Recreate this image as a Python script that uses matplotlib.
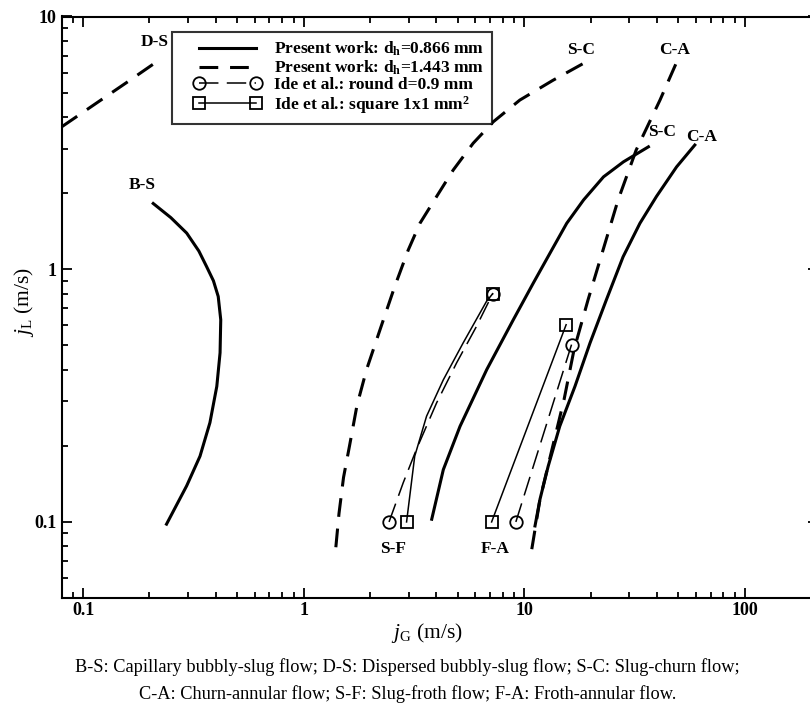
import matplotlib
matplotlib.use('Agg')
import matplotlib.pyplot as plt
import matplotlib.ticker as ticker
from matplotlib.legend_handler import HandlerLine2D
import numpy as np

plt.rcParams['font.family'] = ['Liberation Serif', 'DejaVu Serif']
plt.rcParams['mathtext.fontset'] = 'custom'
plt.rcParams['mathtext.rm'] = 'Liberation Serif'
plt.rcParams['mathtext.it'] = 'Liberation Serif:italic'
plt.rcParams['mathtext.bf'] = 'Liberation Serif:bold'
plt.rcParams['lines.scale_dashes'] = False

########################################################
# Data (jG, jL in m/s)
########################################################

# present work, dh = 0.866 mm (solid)
bs_jg = [0.208, 0.250, 0.295, 0.335, 0.363, 0.390, 0.410, 0.421, 0.418, 0.404, 0.376, 0.339, 0.295, 0.239]
bs_jl = [1.82, 1.60, 1.39, 1.18, 1.025, 0.90, 0.780, 0.631, 0.467, 0.344, 0.247, 0.182, 0.139, 0.098]

sc_jg = [3.81, 4.30, 5.12, 6.77, 8.93, 11.0, 13.1, 15.6, 18.6, 22.9, 28.2, 36.6]
sc_jl = [0.1025, 0.161, 0.239, 0.401, 0.631, 0.881, 1.158, 1.52, 1.88, 2.32, 2.66, 3.05]

ca_jg = [11.2, 11.8, 12.85, 14.5, 17.0, 19.9, 23.6, 28.1, 33.5, 39.8, 49.1, 59.4]
ca_jl = [0.0964, 0.123, 0.166, 0.239, 0.344, 0.511, 0.757, 1.12, 1.52, 1.94, 2.54, 3.10]

# present work, dh = 1.443 mm (dashed)
ds2_jg = [0.08, 0.12, 0.16, 0.22]
ds2_jl = [3.66, 4.66, 5.53, 6.7]

sc2_jg = [1.40, 1.447, 1.517, 1.615, 1.747, 1.93, 2.22, 2.59, 2.98, 3.37, 4.01, 4.77, 5.87, 7.24, 9.56, 13.5, 18.5]
sc2_jl = [0.0794, 0.108, 0.15, 0.20, 0.29, 0.401, 0.576, 0.855, 1.19, 1.52, 1.94, 2.47, 3.15, 3.83, 4.67, 5.59, 6.51]

ca2_jg = [10.83, 11.8, 13.38, 15.17, 16.84, 19.49, 22.8, 26.67, 32.2, 41.3, 49.2]
ca2_jl = [0.078, 0.123, 0.194, 0.305, 0.481, 0.757, 1.193, 1.88, 2.96, 4.67, 6.61]

# Ide et al., round d = 0.9 mm
ide_r_sf_jg = [2.44, 2.83, 3.25, 4.01, 4.94, 6.08, 7.2]
ide_r_sf_jl = [0.1, 0.143, 0.194, 0.296, 0.426, 0.594, 0.8]
ide_r_fa_jg = [9.17, 16.4]
ide_r_fa_jl = [0.1, 0.503]

# Ide et al., square 1x1 mm2
ide_s_sf_jg = [2.93, 3.19, 3.61, 4.30, 5.29, 6.75, 7.2]
ide_s_sf_jl = [0.1, 0.182, 0.262, 0.365, 0.511, 0.746, 0.8]
ide_s_fa_jg = [7.12, 15.5]
ide_s_fa_jl = [0.1, 0.603]

caption = ['B-S: Capillary bubbly-slug flow; D-S: Dispersed bubbly-slug flow; S-C: Slug-churn flow;',
           'C-A: Churn-annular flow; S-F: Slug-froth flow; F-A: Froth-annular flow.']

########################################################
# Plot
########################################################

fig = plt.figure(figsize=(8.1, 7.11), dpi=100)
ax = fig.add_axes([61.7 / 810, 113 / 711, 756.3 / 810, 581.5 / 711])

lw = 2.2
dash = (13.5, 8.5)

for xs, ys in [(bs_jg, bs_jl), (sc_jg, sc_jl), (ca_jg, ca_jl)]:
    ax.plot(xs, ys, color='black', lw=lw, solid_joinstyle='round')
for xs, ys in [(ds2_jg, ds2_jl), (sc2_jg, sc2_jl), (ca2_jg, ca2_jl)]:
    ax.plot(xs, ys, color='black', lw=lw, dashes=dash, dash_capstyle='butt')

mk = dict(color='black', lw=1.1, markersize=9, markerfacecolor='none',
          markeredgewidth=1.3, markevery=[0, -1])
for xs, ys in [(ide_r_sf_jg, ide_r_sf_jl), (ide_r_fa_jg, ide_r_fa_jl)]:
    ax.plot(xs, ys, marker='o', dashes=(14, 6), **mk)
for xs, ys in [(ide_s_sf_jg, ide_s_sf_jl), (ide_s_fa_jg, ide_s_fa_jl)]:
    ax.plot(xs, ys, marker='s', **mk)

ax.set_xscale('log')
ax.set_yscale('log')
ax.set_xlim(0.08, 215)
ax.set_ylim(0.05, 10)

ax.set_xticks([0.1, 1, 10, 100])
ax.set_xticklabels(['0.1', '1', '10', '100'])
ax.set_yticks([0.1, 1, 10])
ax.set_yticklabels(['0.1', '1', '10'])
ax.xaxis.set_minor_locator(ticker.LogLocator(base=10, subs=np.arange(2, 10)))
ax.yaxis.set_minor_locator(ticker.LogLocator(base=10, subs=np.arange(2, 10)))
ax.xaxis.set_minor_formatter(ticker.NullFormatter())
ax.yaxis.set_minor_formatter(ticker.NullFormatter())

ax.tick_params(which='both', direction='in', top=True, right=True, width=1.3)
ax.tick_params(which='major', length=7)
ax.tick_params(which='minor', length=4.3)
ax.tick_params(axis='x', which='major', labelsize=13, pad=3)
ax.tick_params(axis='y', which='major', labelsize=13, pad=4)
for lab in ax.get_xticklabels() + ax.get_yticklabels():
    lab.set_fontweight('bold')
for sp in ax.spines.values():
    sp.set_linewidth(1.5)

ax.set_xlabel(r'$j$$_\mathrm{G}$ (m/s)', fontsize=15.5)
ax.set_ylabel(r'$j$$_\mathrm{L}$ (m/s)', fontsize=15.5)
ax.xaxis.set_label_coords(0.483, -0.040)
ax.yaxis.set_label_coords(-0.034, 0.509)

lbl = dict(fontsize=12.5, fontweight='bold', ha='center', va='center')
ax.text(0.212, 7.93, 'D-S', **lbl)
ax.text(0.185, 2.15, 'B-S', **lbl)
ax.text(18.2, 7.35, 'S-C', **lbl)
ax.text(48.2, 7.35, 'C-A', **lbl)
ax.text(42, 3.5, 'S-C', **lbl)
ax.text(63.7, 3.34, 'C-A', **lbl)
ax.text(2.55, 0.078, 'S-F', **lbl)
ax.text(7.36, 0.078, 'F-A', **lbl)

handles = [
    plt.Line2D([], [], color='black', lw=lw),
    plt.Line2D([], [], color='black', lw=lw, dashes=dash),
    plt.Line2D([], [], color='black', lw=1.1, dashes=(14, 6), marker='o', markersize=9,
               markerfacecolor='none', markeredgewidth=1.3),
    plt.Line2D([], [], color='black', lw=1.1, marker='s', markersize=9,
               markerfacecolor='none', markeredgewidth=1.3),
]
labels = [r'Present work: d$_\mathbf{h}$=0.866 mm',
          r'Present work: d$_\mathbf{h}$=1.443 mm',
          'Ide et al.: round d=0.9 mm',
          r'Ide et al.: square 1x1 mm$^\mathbf{2}$']
leg = ax.legend(handles, labels, loc='upper left', bbox_to_anchor=(0.1455, 0.9733),
                borderaxespad=0, numpoints=2, handlelength=4.7, handletextpad=0.75,
                labelspacing=0.02, borderpad=0.45, fancybox=False,
                handler_map={plt.Line2D: HandlerLine2D(numpoints=2, xpad=0.8)},
                prop={'weight': 'bold', 'size': 12.5})
leg.get_frame().set_edgecolor('black')
leg.get_frame().set_linewidth(1.5)

for i, line in enumerate(caption):
    fig.text(0.503, 0.0619 - i * 0.038, line, ha='center', va='center', fontsize=13.2)

fig.savefig('out.png', dpi=100)
